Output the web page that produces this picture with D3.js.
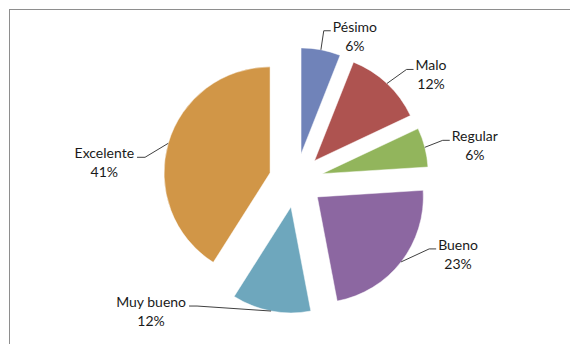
<!DOCTYPE html>
<html>
<head>
<meta charset="utf-8">
<script src="https://cdn.jsdelivr.net/npm/d3@7"></script>
<style>
  html, body { margin: 0; padding: 0; background: #ffffff; }
  svg { display: block; }
  text { font-family: Lato, "Open Sans", sans-serif; font-size: 14px; fill: #1a1a1a; }
</style>
</head>
<body>
<svg id="chart" width="570" height="344"></svg>
<script>
// Survey ratings, share of responses per category
const categories = ["Pésimo", "Malo", "Regular", "Bueno", "Muy bueno", "Excelente"];
const values = [6, 12, 6, 23, 12, 41];
const percentLabels = ["6%", "12%", "6%", "23%", "12%", "41%"];
const sliceColors = ["#7083B9", "#AE5350", "#92B55C", "#8C67A1", "#6EA7BD", "#D19647"];

// Label placement: offset of label (centre x, first baseline) from the slice's outer midpoint
const labelOffsets = [[34, -18], [44, -13], [50, -6], [57, -12], [-120, -4], [-64, 15]];

const svg = d3.select("#chart");
const width = 570, height = 344;

// chart area border (only top and left edges fall inside the view)
svg.append("rect")
  .attr("x", 9.5).attr("y", 9.5)
  .attr("width", 700).attr("height", 500)
  .attr("fill", "none")
  .attr("stroke", "#8e8e8e")
  .attr("stroke-width", 1);

const cx = 296, cy = 180.4;
const radius = 106;
const explode = 27;

const pie = d3.pie().sort(null).value(d => d.value);
const arcs = pie(categories.map((c, i) => ({ name: c, value: values[i], pct: percentLabels[i], i })));

const arcGen = d3.arc().innerRadius(0).outerRadius(radius);

const g = svg.append("g").attr("transform", `translate(${cx},${cy})`);

const mid = a => (a.startAngle + a.endAngle) / 2;
const dir = a => [Math.sin(mid(a)), -Math.cos(mid(a))];

g.selectAll("path.slice")
  .data(arcs)
  .join("path")
  .attr("class", "slice")
  .attr("d", arcGen)
  .attr("fill", d => sliceColors[d.data.i])
  .attr("stroke", "#ffffff")
  .attr("stroke-opacity", 0.6)
  .attr("stroke-width", 0.8)
  .attr("transform", d => {
    const [ux, uy] = dir(d);
    return `translate(${ux * explode},${uy * explode})`;
  });

// data labels with leader lines
const labels = g.append("g");
arcs.forEach(a => {
  const [ux, uy] = dir(a);
  const px = ux * (explode + radius), py = uy * (explode + radius);
  const [ox, oy] = labelOffsets[a.data.i];
  const lx = px + ox, ly = py + oy;

  const t = labels.append("text")
    .attr("text-anchor", "middle")
    .attr("x", lx).attr("y", ly);
  t.append("tspan").attr("x", lx).attr("dy", 0).text(a.data.name);
  t.append("tspan").attr("x", lx).attr("dy", 19).text(a.data.pct);

  const w = t.select("tspan").node().getComputedTextLength();
  const rightSide = ox > 0;
  const edge = rightSide ? lx - w / 2 - 2 : lx + w / 2 + 3;
  const elbow = rightSide ? edge - 7 : edge + 8;
  const ey = ly - 1;

  labels.insert("path", "text")
    .attr("d", `M${px},${py}L${elbow},${ey}L${edge},${ey}`)
    .attr("fill", "none")
    .attr("stroke", "#404040")
    .attr("stroke-width", 1);
});
</script>
</body>
</html>
